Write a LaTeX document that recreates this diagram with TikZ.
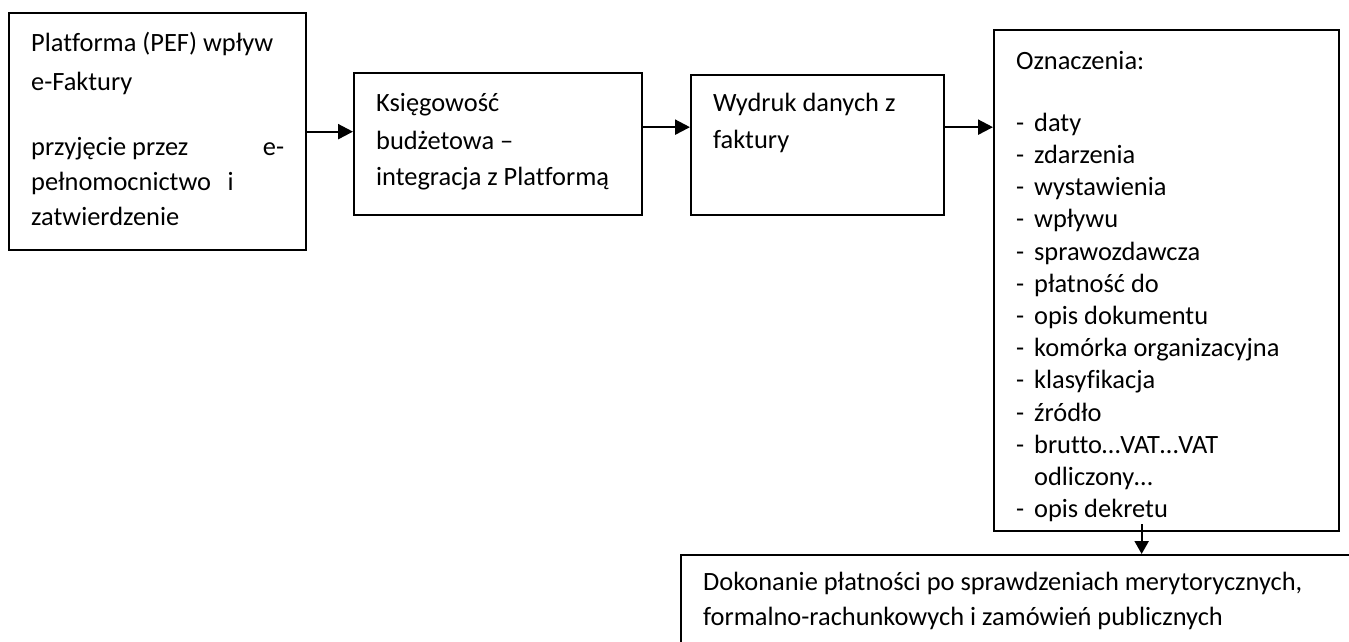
\documentclass[tikz,border=0pt]{standalone}
\usepackage{fontspec}
\setmainfont{Carlito}[Ligatures=NoCommon]
\usepackage{tikz}
\usetikzlibrary{arrows.meta, positioning}

% box text: width, height, first baseline, text
\newcommand{\boxtext}[4]{\parbox[c][#2pt][t]{#1pt}{\leftskip=22pt\rightskip=22pt\parskip=0pt\rule{0pt}{#3pt}#4}}
\newcommand{\oznitem}[1]{\makebox[18pt][l]{-}#1}

\begin{document}
\begin{tikzpicture}[
    x=1pt, y=-1pt,
    box/.style={draw=black, line width=2.3pt, inner sep=0pt, anchor=north west, font=\fontsize{26.4}{35}\selectfont},
    line/.style={draw=black, line width=2.3pt, -{Triangle[length=15pt, width=15pt]}}
]
    \useasboundingbox (0,0) rectangle (1349,642);

    \node[box] (plat) at (8,12) {\boxtext{297}{237}{38}{Platforma (PEF) wpływ\\[4pt]
        e-Faktury\\[30pt]
        przyjęcie przez \hfill e-\\
        pełnomocnictwo\hspace{0.4em} i\\
        zatwierdzenie}};
    \node[box, font=\fontsize{26.4}{36}\selectfont] (ksieg) at (353,72) {\boxtext{288}{142}{38}{Księgowość\\[2pt]
        budżetowa –\\
        integracja z Platformą}};
    \node[box, font=\fontsize{26.4}{37}\selectfont] (wydruk) at (690,74) {\boxtext{253}{140}{36}{Wydruk danych z\\
        faktury}};
    \node[box, font=\fontsize{26.4}{32.2}\selectfont] (ozn) at (993,29) {\boxtext{345}{501}{39}{Oznaczenia:\\[30pt]
        \oznitem{daty}\\
        \oznitem{zdarzenia}\\
        \oznitem{wystawienia}\\
        \oznitem{wpływu}\\
        \oznitem{sprawozdawcza}\\
        \oznitem{płatność do}\\
        \oznitem{opis dokumentu}\\
        \oznitem{komórka organizacyjna}\\
        \oznitem{klasyfikacja}\\
        \oznitem{źródło}\\
        \oznitem{brutto…VAT…VAT}\\
        \hspace*{18pt}odliczony…\\
        \oznitem{opis dekretu}}};
    \node[box] (pay) at (680,554) {\boxtext{740}{150}{35}{Dokonanie płatności po sprawdzeniach merytorycznych,\\
        formalno-rachunkowych i zamówień publicznych}};

    % arrows
    \draw[line] (plat.east) -- (plat.east -| ksieg.west);
    \draw[line] ([yshift=17pt]ksieg.east) -- ([yshift=17pt]ksieg.east -| wydruk.west);
    \draw[line] ([yshift=18pt]wydruk.east) -- ([yshift=18pt]wydruk.east -| ozn.west);
    \draw[line, -{Triangle[length=13pt, width=14pt]}] ([xshift=-25pt, yshift=8pt]ozn.south) -- ([xshift=-25pt]ozn.south |- pay.north);
\end{tikzpicture}
\end{document}
